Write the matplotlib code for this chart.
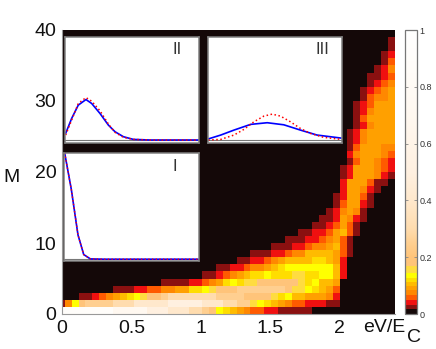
import numpy as np
from matplotlib import pyplot as plt
from matplotlib.colors import LinearSegmentedColormap

plt.rcParams['font.family'] = ['Liberation Sans', 'DejaVu Sans']

W = 436
H = 349

# Each heatmap cell is a level code, rows go from M=0 up to M=39
level_codes = ".123456789abcdefg"
level_values = [0.008, 0.025, 0.042, 0.058, 0.075, 0.09, 0.105, 0.12, 0.135, 0.155,
                0.2, 0.25, 0.3, 0.4, 0.5, 0.7, 0.9]
row_start = [0, 0, 3, 8, 15, 21, 23, 26, 28, 31,
             33, 35, 37, 38, 39, 40, 40, 41, 41, 41,
             41, 42, 42, 42, 42, 42, 43, 43, 43, 43,
             44, 44, 45, 45, 46, 47, 47, 48, 48, 0]
row_cells = [
    "ggggggggfffffeeedddccba876543322" + "11111",
    "148abbbbcccdddddeeeeedddccbb98765" + "433222" + "11",
    "11234567" + "89aabcccccccbbbbaaaa97866" + "55542",
    "11122334455778" + "9aaabbbbbbba998" + "7653",
    "111122345787" + "99aaaaaa978665",
    "112345677" + "87779977" + "8862",
    "1122344567" + "8888888" + "62",
    "11223456666776" + "52",
    "11122344" + "666653" + "1",
    "11122344" + "5631",
    "1112234531",
    "112235631",
    "1123531",
    "1125421",
    "124541",
    "135521",
    "125531",
    "255421",
    "2555311",
    "12555421",
    "12555432",
    "1355432",
    "2455543",
    "1355544",
    "1245555",
    "1245555",
    "124555",
    "135555",
    "124555",
    "123555",
    "13445",
    "12345",
    "1234",
    "1123",
    "124",
    "13",
    "12",
    "1",
    "1",
    "",
]

x_ticks = [0, 0.5, 1, 1.5, 2]
x_labels = ["0", "0.5", "1", "1.5", "2"]
y_ticks = [0, 10, 20, 30, 40]
cbar_ticks = [0, 0.2, 0.4, 0.6, 0.8, 1]
cbar_labels = ["0", "0.2", "0.4", "0.6", "0.8", "1"]

# Inset curves
x_i = [0, 0.05, 0.10, 0.143, 0.193, 0.3, 1]
y_i = [1.0, 0.657, 0.229, 0.044, 0.003, 0, 0]

x_ii = [0, 0.045, 0.095, 0.153, 0.196, 0.259, 0.322, 0.372, 0.435, 0.51, 0.636, 1]
blue_ii = [0.064, 0.208, 0.337, 0.391, 0.353, 0.256, 0.144, 0.080, 0.032, 0.006, 0, 0]
red_ii = [0.048, 0.192, 0.353, 0.410, 0.375, 0.282, 0.154, 0.074, 0.026, 0.006, 0, 0]

x_iii_blue = [0, 0.095, 0.195, 0.32, 0.445, 0.57, 0.695, 0.82, 1]
blue_iii = [0.01, 0.048, 0.096, 0.151, 0.167, 0.147, 0.096, 0.048, 0.019]
x_iii_red = [0, 0.095, 0.195, 0.27, 0.345, 0.42, 0.4825, 0.545, 0.62, 0.695, 0.77, 0.87, 1]
red_iii = [0, 0.006, 0.048, 0.103, 0.176, 0.231, 0.25, 0.231, 0.176, 0.112, 0.064, 0.026, 0.006]

# Stepped colours at the low end, smooth above
stops = [(0, "#140808"), (0.017, "#140808"), (0.017, "#8a1010"), (0.033, "#8a1010"),
         (0.033, "#f01010"), (0.05, "#f01010"), (0.05, "#ff5a00"), (0.066, "#ff5a00"),
         (0.066, "#ff8800"), (0.083, "#ff8800"), (0.083, "#ffa000"), (0.098, "#ffa000"),
         (0.098, "#ffbb00"), (0.113, "#ffbb00"), (0.113, "#ffdd00"), (0.128, "#ffdd00"),
         (0.128, "#ffff00"), (0.145, "#ffff00"), (0.145, "#ffdc40"), (0.17, "#ffdc40"),
         (0.17, "#ffc478"), (0.2, "#ffc47a"), (0.25, "#ffcf90"), (0.3, "#ffdcae"),
         (0.4, "#ffe8cc"), (0.5, "#fff0e0"), (0.7, "#fff8f0"), (1, "#ffffff")]
cmap = LinearSegmentedColormap.from_list("heat", stops, N=2048)


def box(left, top, right, bottom):
    return [left / W, 1 - bottom / H, (right - left) / W, (bottom - top) / H]


def put_text(x, y, s, **kw):
    fig.text(x / W, 1 - y / H, s, va="center", **kw)


def inset(left, top, right, bottom, ylow, label, lx, ly):
    ax = fig.add_axes(box(left, top, right, bottom))
    ax.set_xlim(-0.005, 1.005)
    ax.set_ylim(ylow, 1.0)
    ax.set_xticks([])
    ax.set_yticks([])
    for s in ax.spines.values():
        s.set_color("#808080")
        s.set_linewidth(1.1)
    ax.axhline(0, color="#777777", lw=0.8, zorder=1)
    put_text(lx, ly, label, ha="center", fontsize=12, color="#333333", zorder=10)
    return ax


fig = plt.figure(figsize=(W / 100, H / 100), dpi=100)
ax = fig.add_axes(box(62, 30, 395, 314))

grid = np.full((40, 49), level_values[0])
for r in range(40):
    for i, ch in enumerate(row_cells[r]):
        grid[r, row_start[r] + i] = level_values[level_codes.index(ch)]

dx = 6.87 / (333 / 2.4)
x_edges = np.concatenate([[0], (np.arange(1, 49) - 0.58) * dx, [2.4]])
y_edges = np.arange(41)
mesh = ax.pcolormesh(x_edges, y_edges, grid, cmap=cmap, vmin=0, vmax=1)
ax.set_xlim(0, 2.4)
ax.set_ylim(0, 40)
ax.set_xticks(x_ticks)
ax.set_xticklabels(x_labels)
ax.set_yticks(y_ticks)
ax.tick_params(length=0, labelsize=14, pad=4, colors="#111111")
ax.spines["top"].set_visible(False)
ax.spines["right"].set_visible(False)
ax.spines["left"].set_color("#999999")
ax.spines["bottom"].set_color("#999999")

put_text(3, 177, "M", ha="left", fontsize=14, color="#111111")
put_text(363, 328, "eV/E", ha="left", fontsize=14, color="#111111")
put_text(407, 338, "C", ha="left", fontsize=14, color="#111111")

ax1 = inset(64, 153, 198.5, 260.5, -0.012, "I", 175, 167)
ax1.plot(x_i, y_i, color="blue", lw=1.2)
ax1.plot(x_i, y_i, color="red", lw=1.0, ls=":")

ax2 = inset(65, 36.5, 199, 142.7, -0.026, "II", 177.5, 49.5)
ax2.plot(x_ii, blue_ii, color="blue", lw=1.2)
ax2.plot(x_ii, red_ii, color="red", lw=1.1, ls=":")

ax3 = inset(207.5, 36.5, 341.5, 142.7, -0.026, "III", 322.7, 49.5)
ax3.plot(x_iii_blue, blue_iii, color="blue", lw=1.2)
ax3.plot(x_iii_red, red_iii, color="red", lw=1.1, ls=":")

cax = fig.add_axes(box(404.7, 30, 417.3, 314))
cbar = fig.colorbar(mesh, cax=cax)
cbar.set_ticks(cbar_ticks)
cbar.set_ticklabels(cbar_labels)
cbar.ax.tick_params(direction="in", left=True, right=True, length=2.5, width=0.6,
                    color="#888888", labelsize=6.5, pad=1.5, labelcolor="#333333")
cbar.outline.set_edgecolor("#777777")
cbar.outline.set_linewidth(0.9)

plt.savefig("out.png", dpi=100)
